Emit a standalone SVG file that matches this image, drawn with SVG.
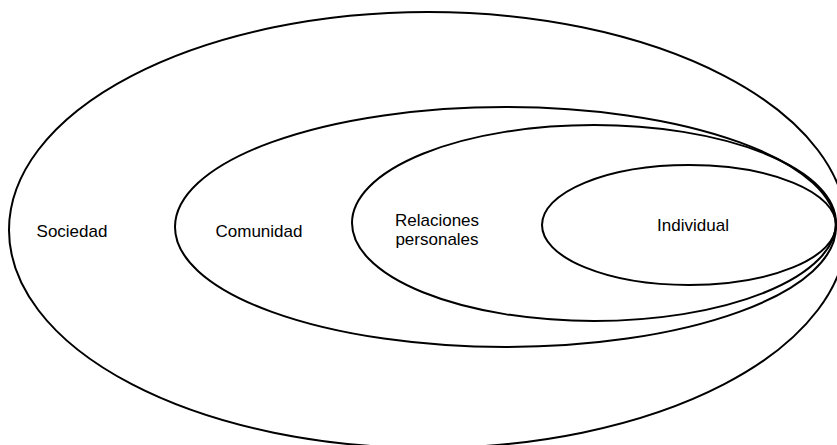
<svg xmlns="http://www.w3.org/2000/svg" width="837" height="445" viewBox="0 0 837 445">
<style>
.ring{fill:none;stroke:#000;stroke-width:2}
.lbl{font-family:"Liberation Sans",Arial,sans-serif;font-size:17px;fill:#000;text-anchor:middle}
</style>
<rect width="837" height="445" fill="#fff"/>
<g id="sociedad">
<ellipse class="ring" cx="428" cy="230" rx="419" ry="218"/>
<text class="lbl" x="72" y="237">Sociedad</text>
</g>
<g id="comunidad">
<ellipse class="ring" cx="505.5" cy="227" rx="330.5" ry="120"/>
<text class="lbl" x="259" y="237">Comunidad</text>
</g>
<g id="relaciones">
<ellipse class="ring" cx="594" cy="223" rx="242" ry="98"/>
<text class="lbl" x="437" y="226">Relaciones</text>
<text class="lbl" x="437" y="245">personales</text>
</g>
<g id="individual">
<ellipse class="ring" cx="689" cy="225" rx="147" ry="60"/>
<text class="lbl" x="693" y="231">Individual</text>
</g>
<g id="connectors"/>
</svg>
